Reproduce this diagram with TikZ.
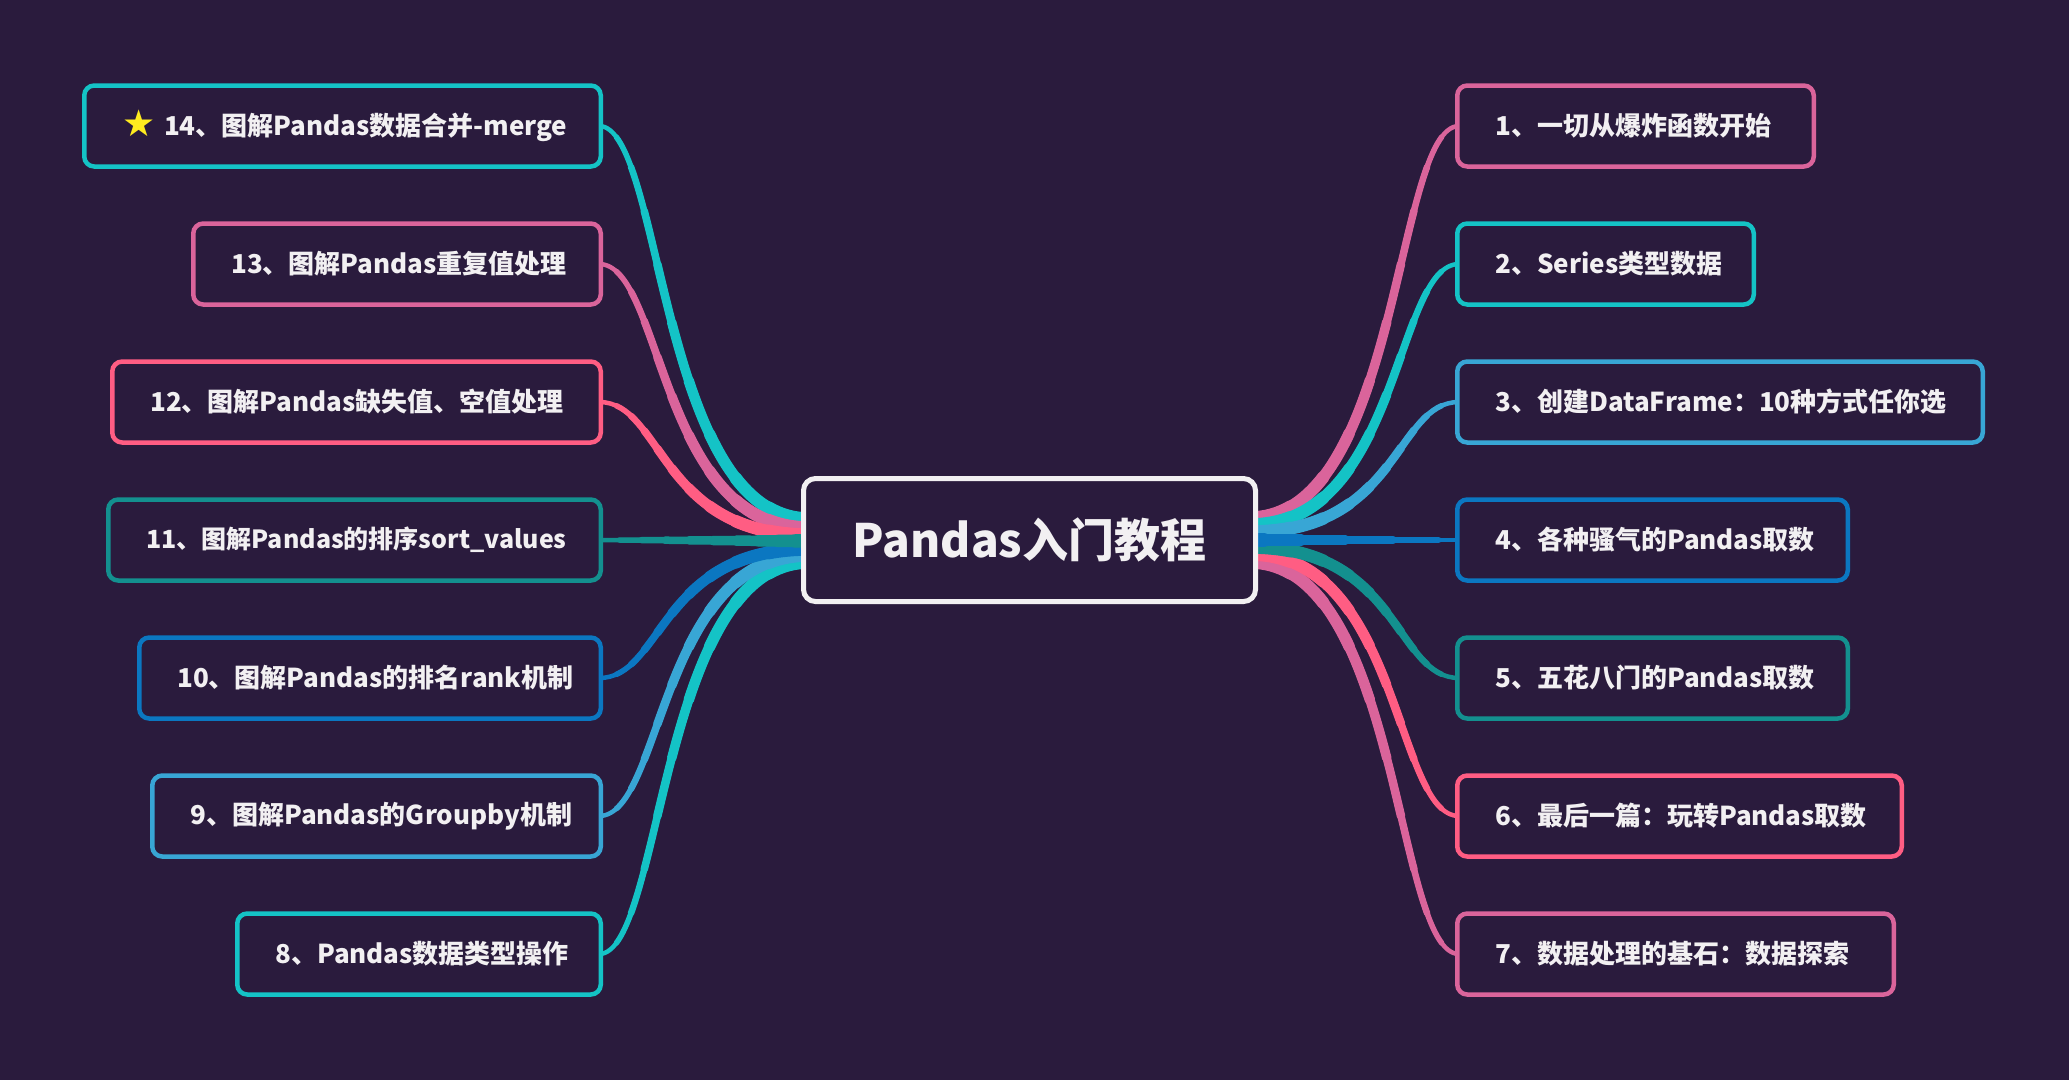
\documentclass[tikz,border=0pt]{standalone}
\usepackage{fontspec}
\setmainfont{Noto Sans CJK SC}
\newfontfamily\symfont{DejaVu Sans}
\usetikzlibrary{calc}
\definecolor{bg}{HTML}{2A1B3D}
\definecolor{cpink}{HTML}{DA649B}
\definecolor{ccyan}{HTML}{14C3C6}
\definecolor{clblue}{HTML}{38A6D5}
\definecolor{cblue}{HTML}{0B77C1}
\definecolor{cteal}{HTML}{13908F}
\definecolor{ccoral}{HTML}{FF5D83}
\definecolor{txt}{HTML}{F2F0F2}
\definecolor{cstar}{HTML}{FFEB1F}
\pgfdeclarelayer{bglayer}
\pgfsetlayers{bglayer,main}
\newcommand{\leaffont}{\fontsize{26}{30}\selectfont\bfseries}
\newcommand{\titlefont}{\fontsize{46}{52}\selectfont\bfseries}
% tapered connector: #1 colour, #2 start, #3 end, #4 start control offset, #5 end control offset
\newcommand{\mybranch}[5]{%
  \coordinate (P0) at (#2);
  \coordinate (P3) at (#3);
  \coordinate (P1) at ($(P0)+(#4,0)$);
  \coordinate (P2) at ($(P3)+(#5,0)$);
  \foreach \t/\w in {1/4.5,0.9/5.5,0.8/6.5,0.7/7.5,0.6/8.5,0.5/9.5,0.4/10.5,0.3/11.5,0.2/12.5,0.1/13.5}{%
    \coordinate (q0) at ($(P0)!\t!(P1)$);
    \coordinate (q1) at ($(P1)!\t!(P2)$);
    \coordinate (q2) at ($(P2)!\t!(P3)$);
    \coordinate (r0) at ($(q0)!\t!(q1)$);
    \coordinate (r1) at ($(q1)!\t!(q2)$);
    \coordinate (s) at ($(r0)!\t!(r1)$);
    \draw[#1, line width=\w pt, line cap=round] (P0) .. controls (q0) and (r0) .. (s);
  }%
}
\begin{document}
\begin{tikzpicture}[x=1pt,y=-1pt,
  leaf/.style={draw=#1, line width=4.5pt, rounded corners=10pt, fill=bg,
    minimum height=81pt, text=txt, font=\leaffont, inner xsep=38pt, inner ysep=0pt},
  leafR/.style={leaf=#1, anchor=west, align=left},
  leafL/.style={leaf=#1, anchor=east, align=right},
  hub/.style={draw=txt, line width=5pt, rounded corners=12pt, fill=bg,
    minimum width=452pt, minimum height=123pt, text=txt, font=\titlefont}]
\useasboundingbox (0,0) rectangle (2069,1080);
\begin{pgfonlayer}{bglayer}
\fill[bg] (0,0) rectangle (2069,1080);
\end{pgfonlayer}

\node[hub] (c) at (1029.5,540) {Pandas入门教程};

\node[leafR=cpink,  text width=280.5pt] (n1) at (1455,126) {\mbox{1、一切从爆炸函数开始}};
\node[leafR=ccyan,  text width=220.5pt] (n2) at (1455,264) {\mbox{2、Series类型数据}};
\node[leafR=clblue, text width=449.5pt] (n3) at (1455,402) {\mbox{3、创建DataFrame：10种方式任你选}};
\node[leafR=cblue,  text width=314.5pt] (n4) at (1455,540) {\mbox{4、各种骚气的Pandas取数}};
\node[leafR=cteal,  text width=314.5pt] (n5) at (1455,678) {\mbox{5、五花八门的Pandas取数}};
\node[leafR=ccoral, text width=368.5pt] (n6) at (1455,816) {\mbox{6、最后一篇：玩转Pandas取数}};
\node[leafR=cpink,  text width=360.5pt] (n7) at (1455,954) {\mbox{7、数据处理的基石：数据探索}};

\node[leafL=ccyan,  text width=440.5pt] (n14) at (603,126) {\mbox{{\symfont\fontsize{37}{37}\selectfont\raisebox{-1pt}{\textcolor{cstar}{★}}}\,\,14、图解Pandas数据合并-merge}};
\node[leafL=cpink,  text width=331.5pt] (n13) at (603,264) {\mbox{13、图解Pandas重复值处理}};
\node[leafL=ccoral, text width=412.5pt] (n12) at (603,402) {\mbox{12、图解Pandas缺失值、空值处理}};
\node[leafL=cteal,  text width=416.5pt] (n11) at (603,540) {\mbox{\fontsize{25}{30}\selectfont 11、图解Pandas的排序sort\_values}};
\node[leafL=cblue,  text width=385.5pt] (n10) at (603,678) {\mbox{10、图解Pandas的排名rank机制}};
\node[leafL=clblue, text width=372.5pt] (n9)  at (603,816) {\mbox{9、图解Pandas的Groupby机制}};
\node[leafL=ccyan,  text width=287.5pt] (n8)  at (603,954) {\mbox{8、Pandas数据类型操作}};

% connector end points
\coordinate (s1) at ($(c.east)+(-8,-22)$);
\coordinate (s2) at ($(c.east)+(-8,-15)$);
\coordinate (s3) at ($(c.east)+(-8,-8)$);
\coordinate (s4) at ($(c.east)+(-8,0)$);
\coordinate (s5) at ($(c.east)+(-8,7)$);
\coordinate (s6) at ($(c.east)+(-8,14)$);
\coordinate (s7) at ($(c.east)+(-8,22)$);
\coordinate (s14) at ($(c.west)+(8,-21)$);
\coordinate (s13) at ($(c.west)+(8,-12)$);
\coordinate (s12) at ($(c.west)+(8,-5)$);
\coordinate (s11) at ($(c.west)+(8,1)$);
\coordinate (s10) at ($(c.west)+(8,9)$);
\coordinate (s9)  at ($(c.west)+(8,15)$);
\coordinate (s8)  at ($(c.west)+(8,22)$);
\foreach \i in {1,...,7}{\coordinate (e\i) at ($(n\i.west)+(4,0)$);}
\foreach \i in {8,...,14}{\coordinate (e\i) at ($(n\i.east)+(-4,0)$);}

\begin{pgfonlayer}{bglayer}
\mybranch{cpink}{s1}{e1}{150}{-64}
\mybranch{cpink}{s7}{e7}{150}{-64}
\mybranch{ccyan}{s2}{e2}{150}{-64}
\mybranch{ccoral}{s6}{e6}{150}{-64}
\mybranch{clblue}{s3}{e3}{150}{-64}
\mybranch{cteal}{s5}{e5}{150}{-64}
\mybranch{cblue}{s4}{e4}{40}{-64}
\mybranch{ccyan}{s14}{e14}{-150}{64}
\mybranch{ccyan}{s8}{e8}{-150}{64}
\mybranch{cpink}{s13}{e13}{-150}{64}
\mybranch{clblue}{s9}{e9}{-150}{64}
\mybranch{ccoral}{s12}{e12}{-150}{64}
\mybranch{cblue}{s10}{e10}{-150}{64}
\mybranch{cteal}{s11}{e11}{-40}{64}
\end{pgfonlayer}
\end{tikzpicture}
\end{document}
